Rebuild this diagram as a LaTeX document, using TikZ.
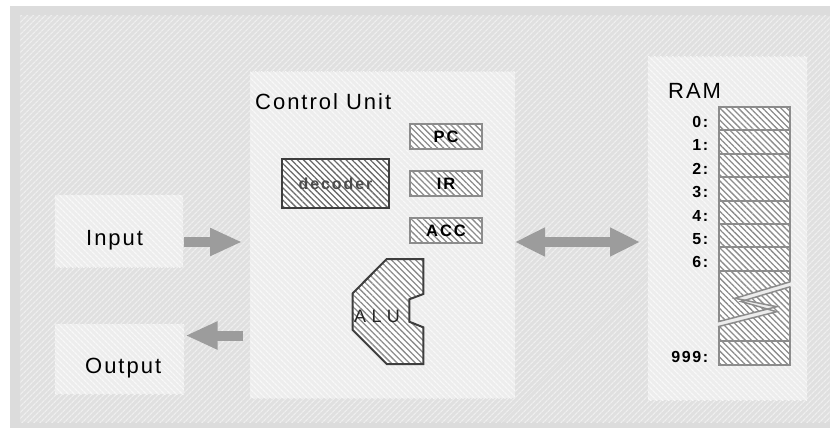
\documentclass[tikz,border=0pt]{standalone}
\usepackage{fontspec}
\setmainfont{Liberation Sans}
\newfontfamily\lblfont[LetterSpace=9]{Liberation Sans}
\newfontfamily\boxfont[LetterSpace=12]{Liberation Sans}
\newfontfamily\digfont[LetterSpace=10]{Liberation Sans}
\newfontfamily\alufont[LetterSpace=30]{Liberation Sans}
\usetikzlibrary{patterns.meta,arrows.meta}
\definecolor{framegray}{HTML}{DCDCDC}
\definecolor{bgbase}{HTML}{E0E0E0}
\definecolor{bgline}{HTML}{EFEFEF}
\definecolor{boxbase}{HTML}{EDEDED}
\definecolor{boxline}{HTML}{F8F8F8}
\definecolor{cellline}{HTML}{8C8C8C}
\definecolor{darkline}{HTML}{6A6A6A}
\definecolor{darkedge}{HTML}{3E3E3E}
\definecolor{arrowgray}{HTML}{9C9C9C}
\definecolor{gapfill}{HTML}{EDEDED}
\tikzset{
  hatch/.style n args={4}{preaction={fill=#1}, pattern={Lines[angle=#3,distance=#4,line width=1.3pt]}, pattern color=#2},
  lightbox/.style={hatch={boxbase}{boxline}{-45}{4pt}, draw=none, inner sep=0pt, outer sep=0pt, anchor=north west},
  cellbox/.style={hatch={white}{cellline}{-45}{4.3pt}, draw=cellline, line width=2pt, inner sep=0pt, outer sep=0pt, minimum width=71pt, anchor=north west},
  regbox/.style={hatch={white}{cellline}{-45}{4.3pt}, draw=cellline, line width=2pt, inner sep=0pt, minimum width=72pt, minimum height=25pt, font=\boxfont\fontsize{16.5}{18}\selectfont\bfseries},
  decbox/.style={hatch={white}{darkline}{-45}{4.3pt}, draw=darkedge, line width=2pt, inner sep=0pt, minimum width=107pt, minimum height=49pt, text=black!70, font=\boxfont\fontsize{16}{18}\selectfont\bfseries},
  biglabel/.style={inner sep=0pt, font=\lblfont\fontsize{22}{24}\selectfont, anchor=base west},
  digit/.style={inner sep=0pt, font=\digfont\fontsize{16}{18}\selectfont\bfseries, anchor=base east},
  bigarrow/.style={draw=arrowgray, line width=10pt, -{Triangle[length=32pt,width=26pt]}},
}
\begin{document}
\begin{tikzpicture}[x=1pt,y=-1pt]
\useasboundingbox (0,0) rectangle (830,428);
% frame and background
\fill[framegray] (10,6) rectangle (830,428);
\path[hatch={bgbase}{bgline}{45}{4pt}] (20,16) rectangle (830,422);
% light boxes
\node[lightbox, minimum width=128pt, minimum height=72pt] (input) at (55,195) {};
\node[lightbox, minimum width=129pt, minimum height=70pt] (output) at (55,324) {};
\node[lightbox, minimum width=265pt, minimum height=326pt] (cu) at (250,72) {};
\node[lightbox, minimum width=159pt, minimum height=343pt] (ram) at (648,57) {};
% labels
\node[biglabel] (inputlbl) at (86,245) {Input};
\node[biglabel] (outputlbl) at (85,373) {Output};
\node[biglabel] (culbl) at (255,110) {Control Unit};
\node[biglabel] (ramlbl) at (668,99) {RAM};
% registers
\node[regbox] (pc) at (446,136.5) {PC};
\node[regbox] (ir) at (446,183.5) {IR};
\node[regbox] (acc) at (446,230.5) {ACC};
\node[decbox] (dec) at (335.5,183.5) {decoder};
% ALU
\path[hatch={white}{cellline}{-45}{4.3pt}, draw=darkedge, line width=2pt, line join=miter]
  (386.7,259) -- (423.3,259) -- (423.3,294) -- (409.3,299.3) -- (409.3,321.7) -- (423.3,327.3)
  -- (423.3,364) -- (386.7,364) -- (352.7,330) -- (352.7,293.3) -- cycle;
\node[inner sep=0pt, anchor=base west, text=black!85, font=\alufont\fontsize{18}{20}\selectfont] (alu) at (354,322) {ALU};
% memory cells
\foreach \i in {0,...,6} {
  \node[cellbox, minimum height=23.4pt] (c\i) at (719,{107+23.4*\i}) {};
  \node[digit] (l\i) at (708.5,{127.5+23.4*\i}) {\i:};
}
\node[cellbox, minimum height=70pt] (cbrk) at (719,270.8) {};
\node[cellbox, minimum height=24.2pt] (c999) at (719,340.8) {};
\node[digit] (l999) at (708.5,362) {999:};
% break
\fill[gapfill] (791.5,281.4) -- (735,298.3) -- (776.7,306.7) -- (717,322) -- (717,327) -- (776.7,311.7) -- (741,301.5) -- (791.5,286.6) -- cycle;
\draw[cellline, line width=1.5pt, line join=miter] (790.5,281.7) -- (735,298.3) -- (776.7,306.7) -- (718,321.7);
\draw[cellline, line width=1.5pt, line join=miter] (790.5,286.7) -- (741,301.5) -- (776.7,311.7) -- (718,326.7);
% arrows
\draw[bigarrow, shorten <=1pt, shorten >=8pt] (input.east |- 0,242) -- (cu.west |- 0,242);
\draw[bigarrow, shorten <=7pt, shorten >=1.5pt] (cu.west |- 0,335.5) -- (output.east |- 0,335.5);
\draw[draw=arrowgray, line width=9.4pt, {Triangle[length=30pt,width=27pt]}-{Triangle[length=30pt,width=27pt]}, shorten <=8pt] (ram.west |- 0,242) -- (cu.east |- 0,242);
\end{tikzpicture}
\end{document}
